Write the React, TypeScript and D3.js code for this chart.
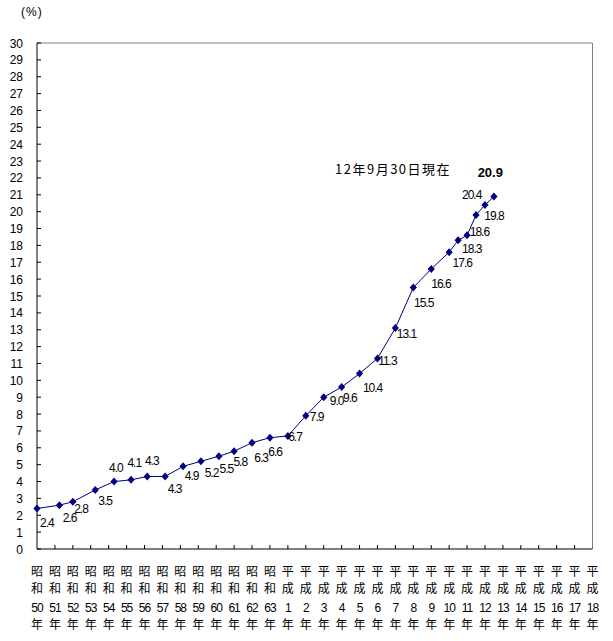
import React from "react";
import * as d3 from "d3";

const categories: string[][] = [
  ...d3.range(50, 64).map((n) => ["昭", "和", String(n), "年"]),
  ...d3.range(1, 19).map((n) => ["平", "成", String(n), "年"]),
];

// position along the category axis (0 = 昭和50年) and value (%)
const pointPos = [0, 1.25, 2, 3.25, 4.3, 5.25, 6.15, 7.15, 8.15, 9.15, 10.15, 11, 12, 13, 14, 15, 16, 17, 18, 19, 20, 21, 22, 23, 23.5, 24, 24.5, 25, 25.5];
const values = [2.4, 2.6, 2.8, 3.5, 4.0, 4.1, 4.3, 4.3, 4.9, 5.2, 5.5, 5.8, 6.3, 6.6, 6.7, 7.9, 9.0, 9.6, 10.4, 11.3, 13.1, 15.5, 16.6, 17.6, 18.3, 18.6, 19.8, 20.4, 20.9];
const yTicks = d3.range(0, 31);

// label offsets (dx, dy to baseline) relative to point
const labelDx = [3, 3.4, 1.3, 3, -5, -3.7, -2.3, 2.7, 1.7, 3.7, 0.7, -0.7, 2.3, -1.7, 0.3, 4, 6, 1.4, 3.4, 0.7, 1.4, 0.7, 0, 3.4, 4, 2.7, 8.3, -23, -16.3];
const labelDy = [18.5, 17, 11, 15, -10, -13, -11, 16.5, 13.7, 15.7, 16.8, 14.8, 19.3, 18.3, 5, 5, 8, 15, 18.4, 6.6, 10, 19.4, 19, 14.6, 12.7, 0.7, 5, -6, -19];

const W = 613;
const H = 641;
const left = 37;
const right = 592.5;
const top = 43;
const bottom = 549;

export default function App() {
  const x = d3.scaleLinear().domain([0, categories.length - 1]).range([left, right]);
  const y = d3.scaleLinear().domain([0, 30]).range([bottom, top]);
  const line = d3
    .line<number>()
    .x((_, i) => x(pointPos[i]))
    .y((v) => y(v));
  const diamond = (cx: number, cy: number) =>
    `M${cx},${cy - 4}L${cx + 3.6},${cy}L${cx},${cy + 4}L${cx - 3.6},${cy}Z`;
  const font = "'Liberation Sans', Arial, sans-serif";
  const cjk = "'Noto Sans CJK JP', sans-serif";
  const last = values.length - 1;

  return (
    <svg
      width={W}
      height={H}
      style={{ position: "absolute", left: 0, top: 0, background: "#fff" }}
      fontFamily={font}
    >
      <text x={21} y={16} fontSize={12} letterSpacing={1} fill="#000">(%)</text>
      {/* frame */}
      <line x1={left} x2={right} y1={top} y2={top} stroke="#808080" strokeWidth={1} />
      <line x1={right} x2={right} y1={top} y2={bottom} stroke="#808080" strokeWidth={1} />
      <line x1={left} x2={left} y1={top} y2={bottom} stroke="#000" strokeWidth={1} />
      <line x1={left} x2={right} y1={bottom} y2={bottom} stroke="#000" strokeWidth={1} />
      {/* y ticks */}
      {yTicks.map((t) => (
        <g key={t}>
          <line x1={left} x2={left + 4} y1={y(t)} y2={y(t)} stroke="#000" />
          <text x={23} y={y(t) + 4.5} fontSize={12} textAnchor="end" fill="#000">
            {t}
          </text>
        </g>
      ))}
      {/* x ticks and labels */}
      {categories.map((c, i) => (
        <g key={i}>
          {i > 0 && i < categories.length - 1 && (
            <line x1={x(i)} x2={x(i)} y1={bottom} y2={bottom - 4} stroke="#000" />
          )}
          <text x={x(i)} y={576} fontSize={12} textAnchor="middle" fontFamily={cjk}>{c[0]}</text>
          <text x={x(i)} y={593} fontSize={12} textAnchor="middle" fontFamily={cjk}>{c[1]}</text>
          <text x={x(i)} y={612} fontSize={12} textAnchor="middle" letterSpacing={-1}>{c[2]}</text>
          <text x={x(i)} y={629} fontSize={12} textAnchor="middle" fontFamily={cjk}>{c[3]}</text>
        </g>
      ))}
      <path d={line(values) || ""} fill="none" stroke="#000080" strokeWidth={1} />
      {values.map((v, i) => (
        <path key={i} d={diamond(x(pointPos[i]), y(v))} fill="#000080" />
      ))}
      {values.map((v, i) =>
        i === last ? null : (
          <text
            key={i}
            x={x(pointPos[i]) + labelDx[i]}
            y={y(v) + labelDy[i]}
            fontSize={12}
            letterSpacing={-1}
            fill="#000"
          >
            {v.toFixed(1)}
          </text>
        )
      )}
      <text
        x={x(pointPos[last]) + labelDx[last]}
        y={y(values[last]) + labelDy[last]}
        fontSize={13}
        fontWeight="bold"
        fill="#000"
      >
        {values[last].toFixed(1)}
      </text>
      <text x={335} y={174} fontSize={13} letterSpacing={1.5} fontFamily={cjk} fill="#000">
        12年9月30日現在
      </text>
    </svg>
  );
}
